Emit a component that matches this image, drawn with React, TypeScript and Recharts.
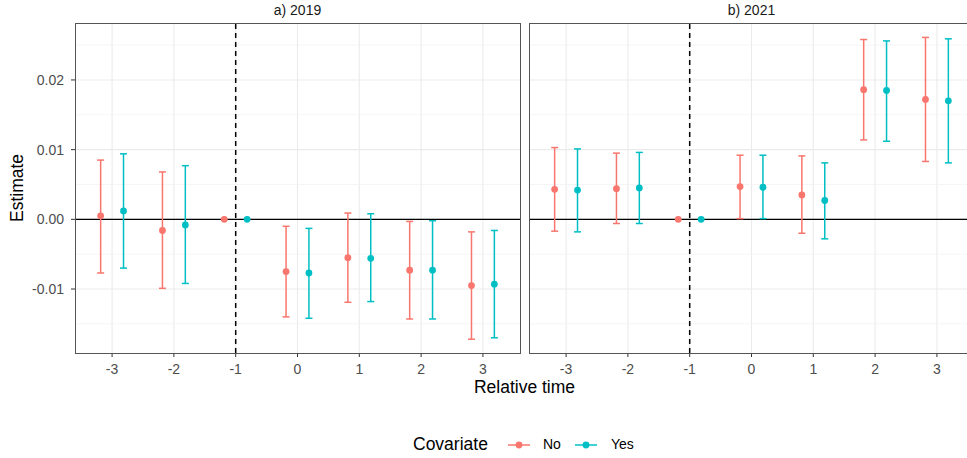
import React from 'react';
import {
  ScatterChart,
  Scatter,
  XAxis,
  YAxis,
  CartesianGrid,
  ReferenceLine,
  ErrorBar,
} from 'recharts';

// relative time periods
const times = [-3, -2, -1, 0, 1, 2, 3];

// a) 2019
const est2019No = [0.0005, -0.0016, 0, -0.0075, -0.0055, -0.0073, -0.0095];
const lo2019No = [-0.0077, -0.0099, null, -0.014, -0.0119, -0.0143, -0.0172];
const hi2019No = [0.0085, 0.0068, null, -0.001, 0.0009, -0.0003, -0.0018];
const est2019Yes = [0.0012, -0.0008, 0, -0.0077, -0.0056, -0.0073, -0.0093];
const lo2019Yes = [-0.007, -0.0092, null, -0.0142, -0.0118, -0.0143, -0.017];
const hi2019Yes = [0.0094, 0.0077, null, -0.0013, 0.0008, -0.0002, -0.0016];

// b) 2021
const est2021No = [0.0043, 0.0044, 0, 0.0047, 0.0035, 0.0186, 0.0172];
const lo2021No = [-0.0017, -0.0006, null, 0.0001, -0.002, 0.0114, 0.0083];
const hi2021No = [0.0103, 0.0095, null, 0.0092, 0.0091, 0.0258, 0.0261];
const est2021Yes = [0.0042, 0.0045, 0, 0.0046, 0.0027, 0.0185, 0.017];
const lo2021Yes = [-0.0018, -0.0006, null, 0.0001, -0.0028, 0.0112, 0.0081];
const hi2021Yes = [0.0101, 0.0096, null, 0.0092, 0.0081, 0.0256, 0.0259];

const xTicks = [-3, -2, -1, 0, 1, 2, 3];
const yTicks = [-0.01, 0, 0.01, 0.02];
const yMinor = [-0.015, -0.005, 0.005, 0.015, 0.025];

const RED = '#F8766D';
const TEAL = '#00BFC4';
const FONT = '"Liberation Sans", Arial, sans-serif';
const DODGE = 0.185;

const build = (est: number[], lo: (number | null)[], hi: (number | null)[], shift: number) =>
  times.map((t, i) => ({
    x: t + shift,
    y: est[i],
    err: lo[i] == null || hi[i] == null ? null : [est[i] - (lo[i] as number), (hi[i] as number) - est[i]],
  }));

const dot = (color: string) => (props: any) =>
  <circle cx={props.cx} cy={props.cy} r={3.4} fill={color} />;

const fmtY = (v: number) => (v === 0 ? '0.00' : v.toFixed(2));

const Panel = ({ no, yes, showY }: { no: any[]; yes: any[]; showY: boolean }) => (
  <ScatterChart
    width={showY ? 520 : 445}
    height={383}
    margin={{ top: 23, right: 0, bottom: 0, left: 0 }}
  >
    <CartesianGrid stroke="#EBEBEB" strokeWidth={1.1} horizontalValues={yTicks} verticalValues={xTicks} />
    {yMinor.map((v) => (
      <ReferenceLine key={v} y={v} stroke="#F2F2F2" strokeWidth={0.8} />
    ))}
    <XAxis
      type="number"
      dataKey="x"
      domain={[-3.6, 3.6]}
      ticks={xTicks}
      allowDataOverflow
      height={30}
      axisLine={false}
      tickSize={4}
      tickMargin={7}
      tickLine={{ stroke: '#333333' }}
      tick={{ fontSize: 14, fill: '#4D4D4D', fontFamily: FONT }}
    />
    <YAxis
      type="number"
      dataKey="y"
      domain={[-0.01918, 0.02817]}
      ticks={yTicks}
      allowDataOverflow
      hide={!showY}
      width={75}
      axisLine={false}
      tickSize={4}
      tickMargin={7}
      tickFormatter={fmtY}
      tickLine={{ stroke: '#333333' }}
      tick={{ fontSize: 14, fill: '#4D4D4D', fontFamily: FONT }}
    />
    <ReferenceLine y={0} stroke="#000000" strokeWidth={1.2} />
    <ReferenceLine x={-1} stroke="#000000" strokeWidth={1.5} strokeDasharray="5 4" />
    <Scatter data={no} fill={RED} shape={dot(RED)} isAnimationActive={false}>
      <ErrorBar dataKey="err" direction="y" width={3.5} stroke={RED} strokeWidth={1.5} />
    </Scatter>
    <Scatter data={yes} fill={TEAL} shape={dot(TEAL)} isAnimationActive={false}>
      <ErrorBar dataKey="err" direction="y" width={3.5} stroke={TEAL} strokeWidth={1.5} />
    </Scatter>
  </ScatterChart>
);

const abs = (style: React.CSSProperties): React.CSSProperties => ({
  position: 'absolute',
  fontFamily: FONT,
  whiteSpace: 'nowrap',
  ...style,
});

export default function App() {
  return (
    <div
      style={{
        position: 'fixed',
        left: 0,
        top: 0,
        width: 967,
        height: 458,
        overflow: 'hidden',
        background: '#fff',
        fontFamily: FONT,
      }}
    >
      <div style={abs({ left: 0, top: 0 })}>
        <Panel no={build(est2019No, lo2019No, hi2019No, -DODGE)} yes={build(est2019Yes, lo2019Yes, hi2019Yes, DODGE)} showY />
      </div>
      <div style={abs({ left: 529, top: 0 })}>
        <Panel no={build(est2021No, lo2021No, hi2021No, -DODGE)} yes={build(est2021Yes, lo2021Yes, hi2021Yes, DODGE)} showY={false} />
      </div>
      {/* panel borders */}
      <div style={abs({ left: 75, top: 23, width: 444, height: 329, border: '1px solid #555' })} />
      <div style={abs({ left: 529, top: 23, width: 444, height: 329, border: '1px solid #555' })} />
      {/* strip labels */}
      <div style={abs({ left: 75, top: 2, width: 445, textAlign: 'center', fontSize: 14, color: '#1A1A1A' })}>a) 2019</div>
      <div style={abs({ left: 529, top: 2, width: 445, textAlign: 'center', fontSize: 14, color: '#1A1A1A' })}>b) 2021</div>
      {/* axis titles */}
      <div style={abs({ left: 75, top: 377, width: 899, textAlign: 'center', fontSize: 17.5, color: '#000' })}>Relative time</div>
      <div
        style={abs({
          left: 17,
          top: 188,
          fontSize: 17.5,
          color: '#000',
          transform: 'translate(-50%, -50%) rotate(-90deg)',
        })}
      >
        Estimate
      </div>
      {/* legend */}
      <div style={abs({ left: 413, top: 434, fontSize: 17.5, color: '#000' })}>Covariate</div>
      <svg style={abs({ left: 505, top: 436 })} width={30} height={18}>
        <line x1={3} y1={9} x2={25} y2={9} stroke={RED} strokeWidth={1.5} />
        <circle cx={14} cy={9} r={3.4} fill={RED} />
      </svg>
      <div style={abs({ left: 543, top: 436, fontSize: 14, color: '#000' })}>No</div>
      <svg style={abs({ left: 572, top: 436 })} width={30} height={18}>
        <line x1={3} y1={9} x2={25} y2={9} stroke={TEAL} strokeWidth={1.5} />
        <circle cx={14} cy={9} r={3.4} fill={TEAL} />
      </svg>
      <div style={abs({ left: 611, top: 436, fontSize: 14, color: '#000' })}>Yes</div>
    </div>
  );
}
